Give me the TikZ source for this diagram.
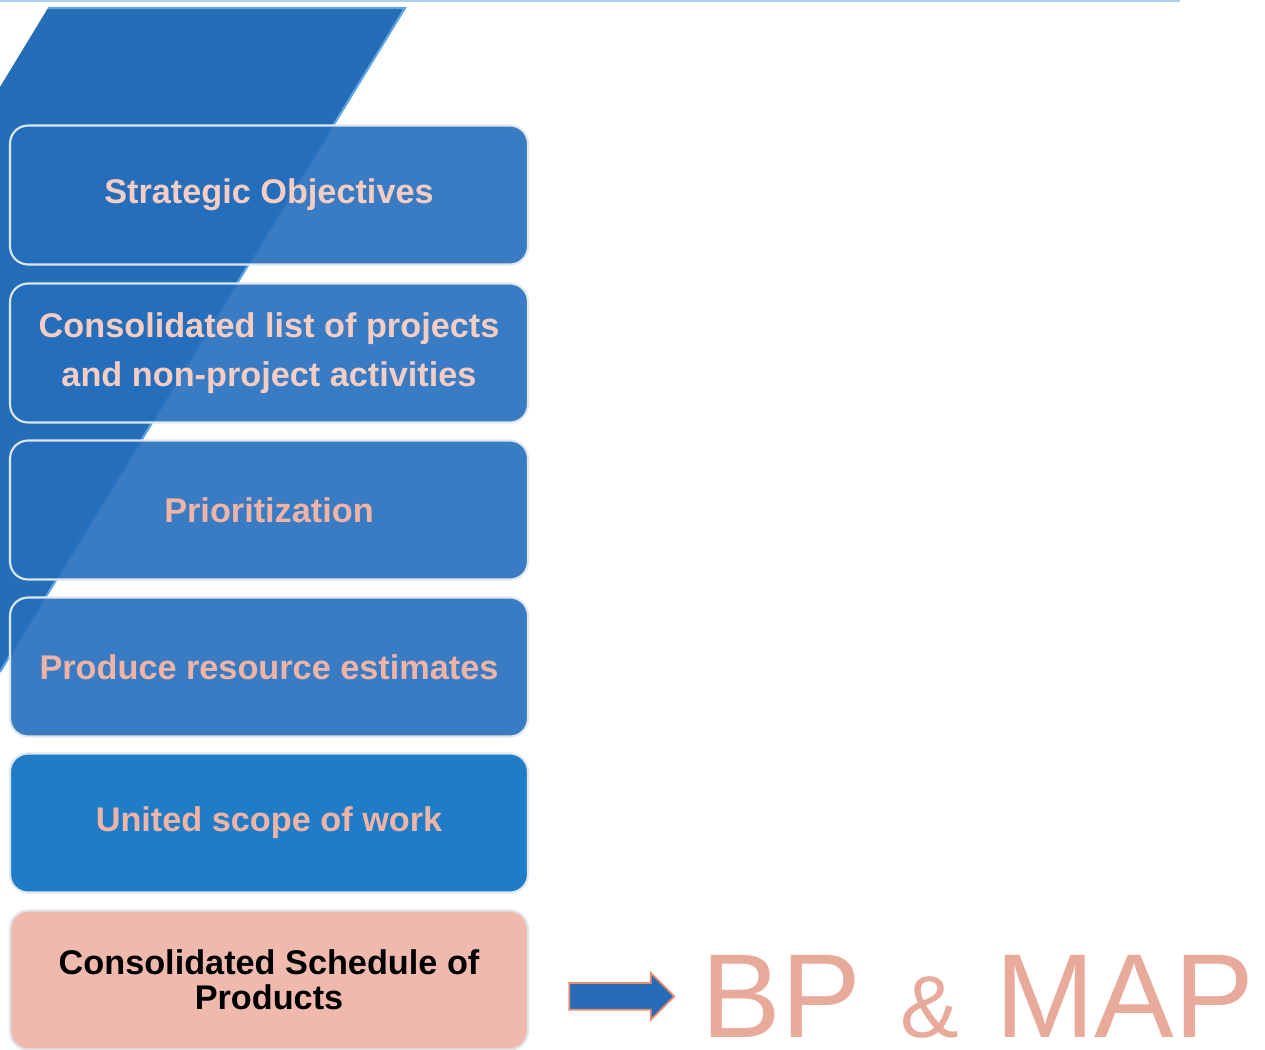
\documentclass[tikz,border=0pt]{standalone}
\usepackage{fontspec}
\setmainfont{Liberation Sans}
\usetikzlibrary{calc,shapes.arrows}

\definecolor{slantblue}{RGB}{37,110,183}
\definecolor{slantedge}{RGB}{95,165,230}
\definecolor{toprule}{RGB}{170,208,240}
\definecolor{boxblue}{RGB}{36,110,188}
\definecolor{unitblue}{RGB}{30,125,198}
\definecolor{boxpink}{RGB}{240,185,174}
\definecolor{lightpink}{RGB}{245,205,194}
\definecolor{textpink}{RGB}{240,180,166}
\definecolor{bpmap}{RGB}{232,170,154}
\definecolor{rimgrey}{RGB}{222,230,238}
\definecolor{arrowblue}{RGB}{40,108,184}
\definecolor{arrowedge}{RGB}{236,140,112}

\begin{document}
\begin{tikzpicture}[x=0.02cm, y=-0.02cm,
	stepbox/.style={rectangle, rounded corners=0.36cm, draw=rimgrey, line width=1.2pt, minimum width=10.36cm, minimum height=2.78cm, align=center, font=\bfseries\fontsize{19.5}{28}\selectfont, text=textpink}]

\useasboundingbox (0,0) rectangle (1265,1049);

% Top rule
\draw[toprule, line width=1pt] (0,1) -- (1180,1);

% Slanted band behind the steps
\fill[slantblue] (48,8) -- (405,8) -- (0,672) -- (0,87) -- cycle;
\draw[slantedge, line width=1.2pt] (48,8) -- (405,8) -- (0,672);

% Steps
\foreach \i/\y/\col/\txt in {1/195/lightpink/Strategic Objectives, 2/353/lightpink/{Consolidated list of projects\\and non-project activities}, 3/510/textpink/Prioritization, 4/667/textpink/Produce resource estimates}
	\node[stepbox, fill=boxblue, fill opacity=0.9, text opacity=1, text=\col] (b\i) at (269,\y) {\txt};
\node[stepbox, fill=unitblue] (b5) at (269,823) {United scope of work};

% Result
\node[stepbox, fill=boxpink, text=black, font=\bfseries\fontsize{19.5}{20}\selectfont] (sched) at (269,980) {Consolidated Schedule of\\Products};

% Output
\node[anchor=base west, inner sep=0pt, text=bpmap] (bpmap) at (701,1037) {\fontsize{68}{68}\selectfont BP\hspace{22.8pt}\fontsize{50}{50}\selectfont\&\hspace{20.5pt}\fontsize{68}{68}\selectfont MAP};

% Arrow to output
\node[single arrow, fill=arrowblue, draw=arrowedge, line width=1pt, inner xsep=0pt, inner ysep=0.25cm, minimum height=2.1cm, single arrow head extend=0.2cm] (arr) at ($(sched.east |- bpmap.west)!0.5!(bpmap.west)$) {};
\end{tikzpicture}
\end{document}
